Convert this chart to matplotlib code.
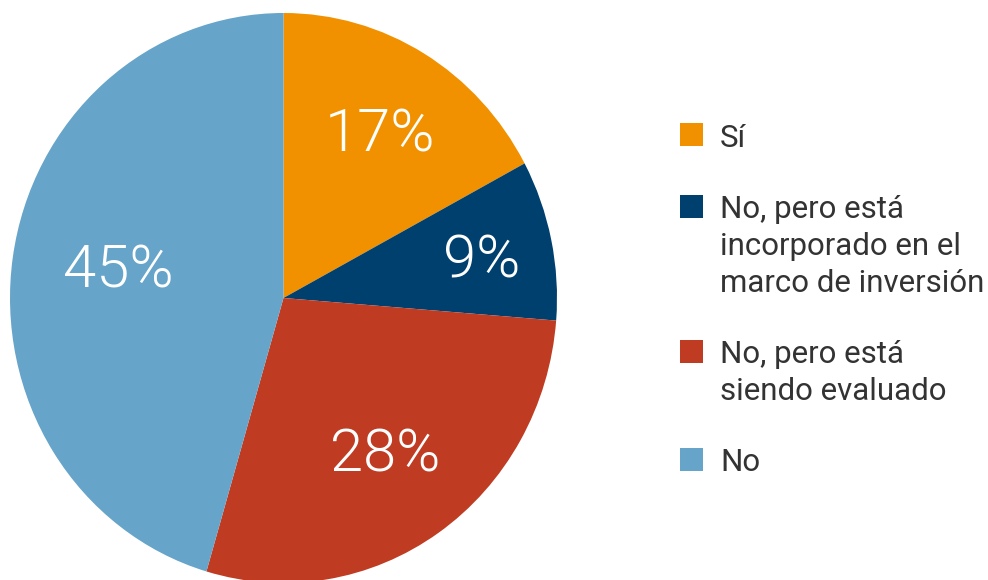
import matplotlib.pyplot as plt
from matplotlib import font_manager as fm

categories = ["Sí", "No, pero está\nincorporado en el\nmarco de inversión",
              "No, pero está\nsiendo evaluado", "No"]
values = [17, 9, 28, 45]
colors = ["#F29100", "#00406F", "#BF3B22", "#66A4C9"]

# where each percentage label sits (layout only): distance from centre, extra lift
label_r = [0.69, 0.74, 0.655, 0.61]
label_lift = [0.0, 0.0, 0.009, 0.028]

# use the Roboto Light file for the percentages if it is there
light = None
for f in fm.findSystemFonts():
    if f.split("/")[-1].lower() in ("roboto-light.ttf", "roboto-light.otf"):
        light = f
if light:
    pct_font = fm.FontProperties(fname=light, size=43)
else:
    pct_font = fm.FontProperties(family="Roboto", weight="light", size=43)

W, H = 988, 580
fig = plt.figure(figsize=(W / 100, H / 100), dpi=100)

# pie is slightly taller than wide in the reference
ax = fig.add_axes([10 / W, (H - 583) / H, 547 / W, 570 / H])
wedges, texts = ax.pie(values, colors=colors, startangle=90, counterclock=False,
                       labels=[f"{v}%" for v in values], labeldistance=0.68,
                       wedgeprops=dict(linewidth=0))
for t, r, lift in zip(texts, label_r, label_lift):
    x, y = t.get_position()
    s = r / 0.68
    t.set_position((x * s, y * s + lift))
    t.set_ha("center")
    t.set_va("center_baseline")
    t.set_color("white")
    t.set_fontproperties(pct_font)
ax.set_aspect("auto")
ax.set_xlim(-1, 1)
ax.set_ylim(-1, 1)
ax.axis("off")

# legend drawn by hand
sq = 23
x_sq = 680
x_txt = 720
line_h = 37
gap = 34
y = 135  # centre of first square, px from top
for cat, col in zip(categories, colors):
    lines = cat.split("\n")
    fig.patches.append(plt.Rectangle((x_sq / W, 1 - (y + sq / 2) / H), sq / W, sq / H,
                                     transform=fig.transFigure, facecolor=col,
                                     edgecolor="none"))
    for i, ln in enumerate(lines):
        fig.text(x_txt / W, 1 - (y + 12 + i * line_h) / H, ln, ha="left", va="baseline",
                 fontsize=22.5, color="#333333", family="Roboto")
    y += len(lines) * line_h + gap

fig.savefig("out.png", dpi=100)
